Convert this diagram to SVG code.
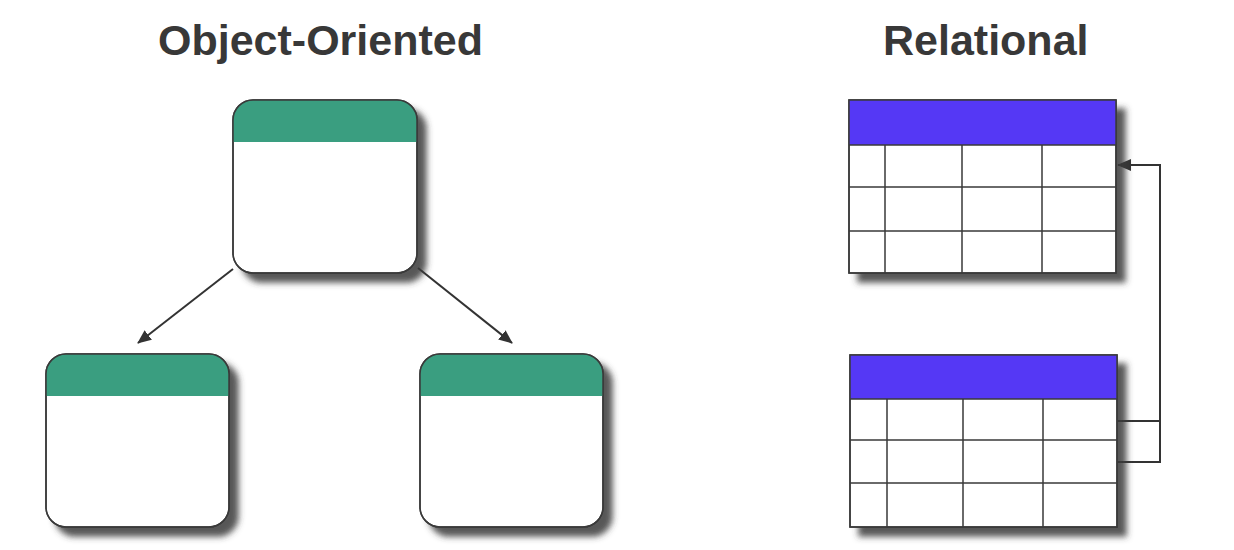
<svg xmlns="http://www.w3.org/2000/svg" width="1234" height="550" viewBox="0 0 1234 550">
  <style>
    .title { font-family: "Liberation Sans", Arial, sans-serif; font-weight: bold; font-size: 43px; fill: #383838; }
    .body { fill: #ffffff; stroke: #3a3a3a; stroke-width: 1.5; }
    .ohead { fill: #3a9e80; stroke: none; }
    .thead { fill: #5538f5; stroke: none; }
    .grid { fill: none; stroke: #3a3a3a; stroke-width: 1.5; }
    .edge { fill: none; stroke: #333333; stroke-width: 2; }
  </style>
  <defs>
    <filter id="shadow" x="-10%" y="-10%" width="130%" height="130%">
      <feDropShadow dx="9" dy="9" stdDeviation="3" flood-color="#3a3a3a" flood-opacity="0.85"/>
    </filter>
    <marker id="arrow" viewBox="0 0 14 12" refX="13" refY="6" markerWidth="14" markerHeight="12" markerUnits="userSpaceOnUse" orient="auto">
      <path d="M0,0 L14,6 L0,12 Z" fill="#333333"/>
    </marker>
  </defs>
  <rect width="1234" height="550" fill="#ffffff"/>

  <text class="title" x="158" y="55">Object-Oriented</text>
  <text class="title" x="883" y="55">Relational</text>

  <g id="connectors">
    <line class="edge" x1="233" y1="269" x2="138" y2="343" marker-end="url(#arrow)"/>
    <line class="edge" x1="418" y1="268" x2="512" y2="343" marker-end="url(#arrow)"/>
    <polyline class="edge" points="1117,421 1160,421"/>
    <polyline class="edge" points="1117,462 1160,462 1160,165 1118,165" marker-end="url(#arrow)"/>
  </g>

  <g id="object-top" transform="translate(233,100)">
    <rect class="body" x="0" y="0" width="184" height="173" rx="20" filter="url(#shadow)"/>
    <path class="ohead" d="M0,42 V20 A20,20 0 0 1 20,0 H164 A20,20 0 0 1 184,20 V42 Z"/>
    <rect x="0" y="0" width="184" height="173" rx="20" fill="none" stroke="#3a3a3a" stroke-width="1.5"/>
  </g>

  <g id="object-left" transform="translate(46,354)">
    <rect class="body" x="0" y="0" width="183" height="173" rx="20" filter="url(#shadow)"/>
    <path class="ohead" d="M0,42 V20 A20,20 0 0 1 20,0 H163 A20,20 0 0 1 183,20 V42 Z"/>
    <rect x="0" y="0" width="183" height="173" rx="20" fill="none" stroke="#3a3a3a" stroke-width="1.5"/>
  </g>

  <g id="object-right" transform="translate(420,354)">
    <rect class="body" x="0" y="0" width="183" height="173" rx="20" filter="url(#shadow)"/>
    <path class="ohead" d="M0,42 V20 A20,20 0 0 1 20,0 H163 A20,20 0 0 1 183,20 V42 Z"/>
    <rect x="0" y="0" width="183" height="173" rx="20" fill="none" stroke="#3a3a3a" stroke-width="1.5"/>
  </g>

  <g id="table-top" transform="translate(849,100)">
    <rect class="body" x="0" y="0" width="267" height="173" filter="url(#shadow)"/>
    <rect class="thead" x="0" y="0" width="267" height="45"/>
    <path class="grid" d="M0,45 H267 M0,87 H267 M0,131 H267 M36,45 V173 M113,45 V173 M193,45 V173"/>
    <rect class="grid" x="0" y="0" width="267" height="173"/>
  </g>

  <g id="table-bottom" transform="translate(850,355)">
    <rect class="body" x="0" y="0" width="267" height="172" filter="url(#shadow)"/>
    <rect class="thead" x="0" y="0" width="267" height="44"/>
    <path class="grid" d="M0,44 H267 M0,85 H267 M0,128 H267 M37,44 V172 M113,44 V172 M193,44 V172"/>
    <rect class="grid" x="0" y="0" width="267" height="172"/>
  </g>
</svg>
